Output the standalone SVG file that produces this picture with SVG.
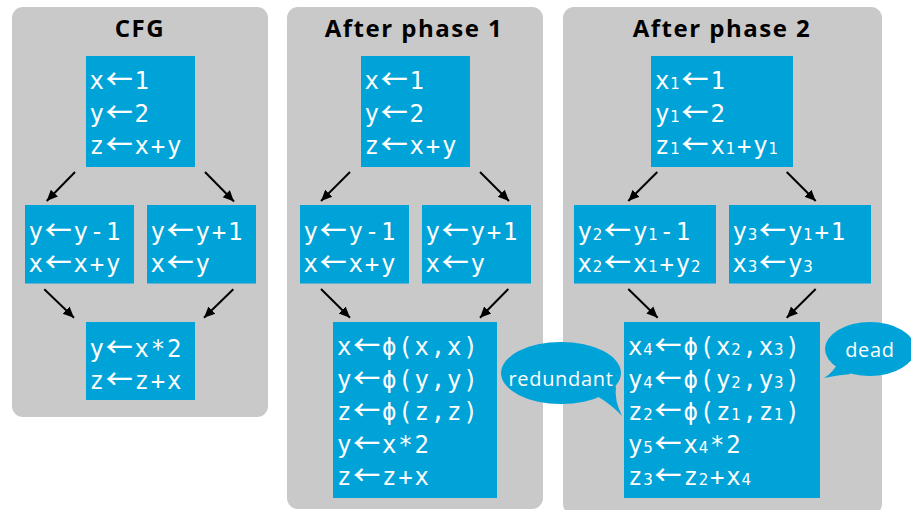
<svg xmlns="http://www.w3.org/2000/svg" width="911" height="510" viewBox="0 0 911 510">
<style>
.panel{fill:#c9c9c9}
.box{fill:#00a3d8}
.code{font-family:"DejaVu Sans Mono",monospace;font-size:24px;fill:#fff;letter-spacing:1.8px}
.ar{font-family:"Noto Sans CJK JP",sans-serif;font-size:27px;font-weight:500}
.sb{font-family:"DejaVu Sans",sans-serif;font-size:15px}
.title{font-family:"Open Sans",sans-serif;font-weight:700;font-size:24px;text-anchor:middle;fill:#000;letter-spacing:1.5px}
.bub{fill:#00a3d8}
.bt{font-family:"Open Sans",sans-serif;font-size:20px;fill:#fff;text-anchor:middle;letter-spacing:0.7px}
.edge{stroke:#000;stroke-width:2;fill:none;marker-end:url(#ah)}
</style>
<defs>
<marker id="ah" markerUnits="userSpaceOnUse" markerWidth="12" markerHeight="12" viewBox="0 0 12 12" refX="11" refY="6" orient="auto">
<path d="M0,1 L11,6 L0,11 Z" fill="#000"/>
</marker>
</defs>
<rect width="911" height="510" fill="#fff"/>
<g id="panels">
<rect class="panel" x="12" y="7" width="256" height="410" rx="11"/>
<rect class="panel" x="287" y="7" width="256" height="502" rx="11"/>
<rect class="panel" x="563" y="7" width="319" height="508" rx="11"/>
<text class="title" x="140" y="37">CFG</text>
<text class="title" x="414" y="37">After phase 1</text>
<text class="title" x="722" y="37">After phase 2</text>
</g>
<g id="p1-top"><rect class="box" x="86" y="56" width="109" height="111"/>
<text class="code" x="89.5" y="89">x<tspan class="ar">←</tspan>1</text>
<text class="code" x="89.5" y="121.5">y<tspan class="ar">←</tspan>2</text>
<text class="code" x="89.5" y="154">z<tspan class="ar">←</tspan>x+y</text></g>
<g id="p1-left"><rect class="box" x="25" y="205" width="109" height="78.5"/>
<text class="code" x="28.5" y="239.5">y<tspan class="ar">←</tspan>y-1</text>
<text class="code" x="28.5" y="271.5">x<tspan class="ar">←</tspan>x+y</text></g>
<g id="p1-right"><rect class="box" x="147" y="205" width="109" height="78.5"/>
<text class="code" x="150.5" y="239.5">y<tspan class="ar">←</tspan>y+1</text>
<text class="code" x="150.5" y="271.5">x<tspan class="ar">←</tspan>y</text></g>
<g id="p1-bottom"><rect class="box" x="86" y="322" width="109" height="78"/>
<text class="code" x="89.5" y="357">y<tspan class="ar">←</tspan>x*2</text>
<text class="code" x="89.5" y="389">z<tspan class="ar">←</tspan>z+x</text></g>

<g id="p2-top"><rect class="box" x="361" y="56" width="109" height="111"/>
<text class="code" x="364.5" y="89">x<tspan class="ar">←</tspan>1</text>
<text class="code" x="364.5" y="121.5">y<tspan class="ar">←</tspan>2</text>
<text class="code" x="364.5" y="154">z<tspan class="ar">←</tspan>x+y</text></g>
<g id="p2-left"><rect class="box" x="300" y="205" width="109" height="78.5"/>
<text class="code" x="303.5" y="239.5">y<tspan class="ar">←</tspan>y-1</text>
<text class="code" x="303.5" y="271.5">x<tspan class="ar">←</tspan>x+y</text></g>
<g id="p2-right"><rect class="box" x="422" y="205" width="109" height="78.5"/>
<text class="code" x="425.5" y="239.5">y<tspan class="ar">←</tspan>y+1</text>
<text class="code" x="425.5" y="271.5">x<tspan class="ar">←</tspan>y</text></g>
<g id="p2-bottom"><rect class="box" x="333" y="322" width="164" height="176"/>
<text class="code" x="337" y="355">x<tspan class="ar">←</tspan>ϕ(x,x)</text>
<text class="code" x="337" y="387.5">y<tspan class="ar">←</tspan>ϕ(y,y)</text>
<text class="code" x="337" y="420">z<tspan class="ar">←</tspan>ϕ(z,z)</text>
<text class="code" x="337" y="452.5">y<tspan class="ar">←</tspan>x*2</text>
<text class="code" x="337" y="485">z<tspan class="ar">←</tspan>z+x</text></g>

<g id="p3-top"><rect class="box" x="651" y="56" width="142" height="111"/>
<text class="code" x="655" y="89">x<tspan class="sb" dx="-1">1</tspan><tspan class="ar">←</tspan>1</text>
<text class="code" x="655" y="121.5">y<tspan class="sb" dx="-1">1</tspan><tspan class="ar">←</tspan>2</text>
<text class="code" x="655" y="154">z<tspan class="sb" dx="-1">1</tspan><tspan class="ar">←</tspan>x<tspan class="sb" dx="-1">1</tspan>+y<tspan class="sb" dx="-1">1</tspan></text></g>
<g id="p3-left"><rect class="box" x="574" y="205" width="142" height="78.5"/>
<text class="code" x="577.5" y="239.5">y<tspan class="sb" dx="-1">2</tspan><tspan class="ar">←</tspan>y<tspan class="sb" dx="-1">1</tspan>-1</text>
<text class="code" x="577.5" y="271.5">x<tspan class="sb" dx="-1">2</tspan><tspan class="ar">←</tspan>x<tspan class="sb" dx="-1">1</tspan>+y<tspan class="sb" dx="-1">2</tspan></text></g>
<g id="p3-right"><rect class="box" x="729" y="205" width="142" height="78.5"/>
<text class="code" x="732.5" y="239.5">y<tspan class="sb" dx="-1">3</tspan><tspan class="ar">←</tspan>y<tspan class="sb" dx="-1">1</tspan>+1</text>
<text class="code" x="732.5" y="271.5">x<tspan class="sb" dx="-1">3</tspan><tspan class="ar">←</tspan>y<tspan class="sb" dx="-1">3</tspan></text></g>
<g id="p3-bottom"><rect class="box" x="624" y="322" width="196" height="176"/>
<text class="code" x="628" y="355">x<tspan class="sb" dx="-1">4</tspan><tspan class="ar">←</tspan>ϕ(x<tspan class="sb" dx="-1">2</tspan>,x<tspan class="sb" dx="-1">3</tspan>)</text>
<text class="code" x="628" y="387.5">y<tspan class="sb" dx="-1">4</tspan><tspan class="ar">←</tspan>ϕ(y<tspan class="sb" dx="-1">2</tspan>,y<tspan class="sb" dx="-1">3</tspan>)</text>
<text class="code" x="628" y="420">z<tspan class="sb" dx="-1">2</tspan><tspan class="ar">←</tspan>ϕ(z<tspan class="sb" dx="-1">1</tspan>,z<tspan class="sb" dx="-1">1</tspan>)</text>
<text class="code" x="628" y="452.5">y<tspan class="sb" dx="-1">5</tspan><tspan class="ar">←</tspan>x<tspan class="sb" dx="-1">4</tspan>*2</text>
<text class="code" x="628" y="485">z<tspan class="sb" dx="-1">3</tspan><tspan class="ar">←</tspan>z<tspan class="sb" dx="-1">2</tspan>+x<tspan class="sb" dx="-1">4</tspan></text></g>

<g id="connectors">
<line class="edge" x1="75" y1="172" x2="46.7" y2="201"/>
<line class="edge" x1="205" y1="172" x2="234" y2="201.5"/>
<line class="edge" x1="44.3" y1="289.3" x2="74" y2="317.7"/>
<line class="edge" x1="233.3" y1="289.3" x2="204" y2="317.7"/>
<line class="edge" x1="350" y1="172" x2="321" y2="201"/>
<line class="edge" x1="480" y1="172" x2="509" y2="201"/>
<line class="edge" x1="321" y1="289" x2="350" y2="317.7"/>
<line class="edge" x1="508.3" y1="289" x2="480" y2="317.7"/>
<line class="edge" x1="657.3" y1="172" x2="628.3" y2="201"/>
<line class="edge" x1="786.7" y1="172" x2="815.7" y2="201"/>
<line class="edge" x1="628.3" y1="289" x2="657.7" y2="317.7"/>
<line class="edge" x1="815.7" y1="289" x2="786.7" y2="317.7"/>
</g>

<g id="bubble-redundant">
<ellipse class="bub" cx="561" cy="373" rx="60" ry="31"/>
<path class="bub" d="M597,396 Q612,405 622,416 Q614,400 616,386 Z"/>
<text class="bt" x="561" y="386">redundant</text>
</g>
<g id="bubble-dead">
<ellipse class="bub" cx="870" cy="349" rx="45" ry="27"/>
<path class="bub" d="M838,362 Q834,372 824,378 Q838,375 851,374 Z"/>
<text class="bt" x="870" y="356.5">dead</text>
</g>
</svg>
